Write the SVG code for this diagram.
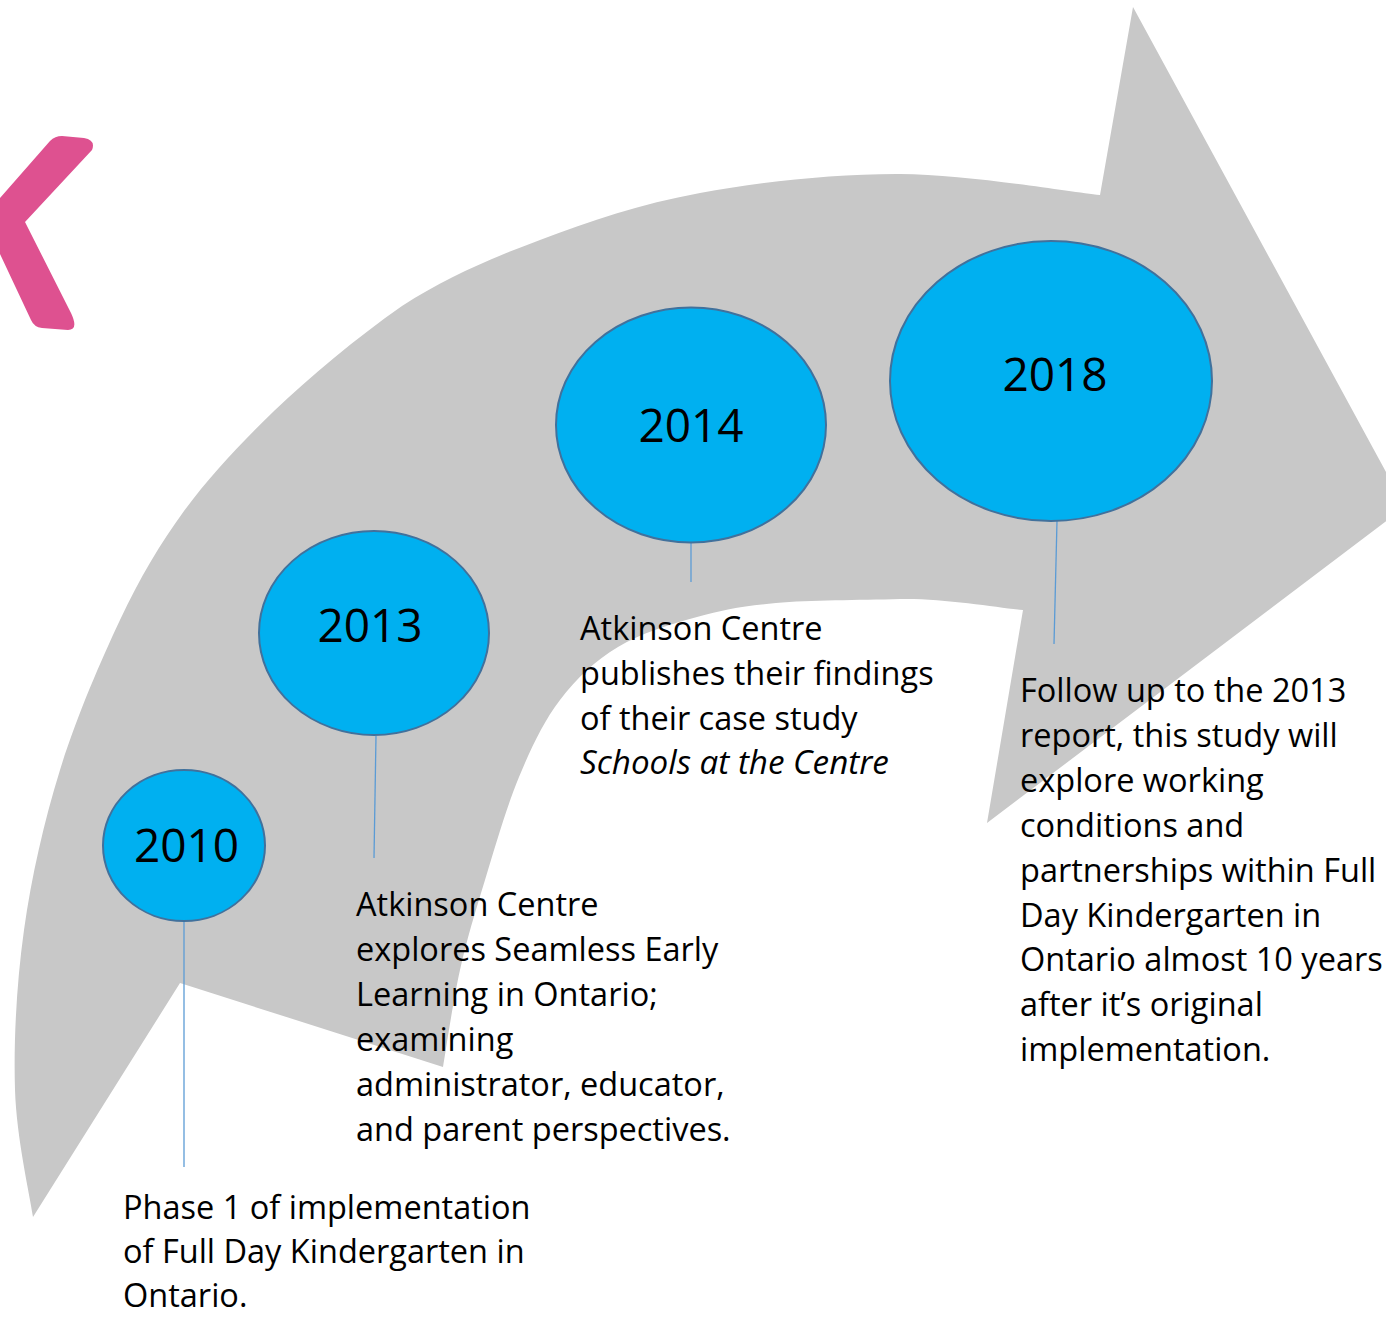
<svg xmlns="http://www.w3.org/2000/svg" width="1386" height="1318" viewBox="0 0 1386 1318">
<style>
.yr{font-family:"Open Sans","Liberation Sans",sans-serif;font-size:46px;fill:#000;text-anchor:middle}
.tx{font-family:"Open Sans","Liberation Sans",sans-serif;font-size:32.5px;fill:#000}
.it{font-style:italic;font-size:33.2px}
.node ellipse{fill:#00b0f0;stroke:#41719c;stroke-width:2}
.conn line{stroke:#5b9bd5;stroke-width:1.3}
</style>
<rect width="1386" height="1318" fill="#fff"/>
<g id="arrow">
<path fill="#c8c8c8" d="M33,1217 C30,1196 16.5,1137.8 15,1090 C13.5,1042.2 16.5,983.3 24,930 C31.5,876.7 44,821.7 60,770 C76,718.3 100,662.5 120,620 C140,577.5 160,544 184,511 C210,476 238,446 274,411 C310,377 356,338 402,306 C447,277 490,258.7 540,240 C590,221.3 640,204 700,193 C760,182 833.3,173.7 900,174 C966.7,174.3 1066.7,191.5 1100,195 L1133,7 L1405,507 L987,823 L1023,610 C1002.5,608.2 941.2,597.8 900,599 C858.8,600.2 809.8,600 776,603 C742.2,606 723.3,609.7 697,617 C670.7,624.3 640.8,633.2 618,647 C595.2,660.8 576.5,678.3 560,700 C543.5,721.7 531.5,747 519,777 C506.5,807 494.8,847.8 485,880 C475.2,912.2 467,938.8 460,970 C453,1001.2 445.8,1050.8 443,1067 L180,983 Z"/>
</g>
<g id="chevron">
<path fill="#de5190" d="M0,198 L50,141 Q55,136 62,136 L84,138 Q96,140 92,150 L25,222 L71,313 Q79,330 68,330 L42,328 Q34,327 31,320 L0,254 Z"/>
</g>
<g class="conn" id="connectors">
<line x1="184" y1="921" x2="184" y2="1167"/>
<line x1="376" y1="736" x2="374" y2="858"/>
<line x1="691" y1="542" x2="691" y2="582"/>
<line x1="1057" y1="521" x2="1054" y2="644"/>
</g>
<g class="node" id="n2010">
<ellipse cx="184" cy="845.5" rx="81" ry="75.5"/>
<text class="yr" x="186.5" y="862">2010</text>
</g>
<g class="node" id="n2013">
<ellipse cx="374" cy="633" rx="115" ry="102"/>
<text class="yr" x="370" y="642">2013</text>
</g>
<g class="node" id="n2014">
<ellipse cx="691" cy="425" rx="135" ry="117.5"/>
<text class="yr" x="691" y="442">2014</text>
</g>
<g class="node" id="n2018">
<ellipse cx="1051" cy="381" rx="161" ry="140"/>
<text class="yr" x="1055" y="391">2018</text>
</g>
<g id="t2010">
<text class="tx" x="123" y="1219" font-size="32">Phase 1 of implementation</text>
<text class="tx" x="123" y="1263" font-size="32">of Full Day Kindergarten in</text>
<text class="tx" x="123" y="1307" font-size="32">Ontario.</text>
</g>
<g id="t2013">
<text class="tx" x="356" y="916">Atkinson Centre</text>
<text class="tx" x="356" y="961">explores Seamless Early</text>
<text class="tx" x="356" y="1006">Learning in Ontario;</text>
<text class="tx" x="356" y="1051">examining</text>
<text class="tx" x="356" y="1096">administrator, educator,</text>
<text class="tx" x="356" y="1141">and parent perspectives.</text>
</g>
<g id="t2014">
<text class="tx" x="580" y="640">Atkinson Centre</text>
<text class="tx" x="580" y="685">publishes their findings</text>
<text class="tx" x="580" y="730">of their case study</text>
<text class="tx it" x="580" y="774">Schools at the Centre</text>
</g>
<g id="t2018">
<text class="tx" x="1020" y="702">Follow up to the 2013</text>
<text class="tx" x="1020" y="747">report, this study will</text>
<text class="tx" x="1020" y="792">explore working</text>
<text class="tx" x="1020" y="837">conditions and</text>
<text class="tx" x="1020" y="882">partnerships within Full</text>
<text class="tx" x="1020" y="927">Day Kindergarten in</text>
<text class="tx" x="1020" y="971">Ontario almost 10 years</text>
<text class="tx" x="1020" y="1016">after it’s original</text>
<text class="tx" x="1020" y="1061">implementation.</text>
</g>
</svg>
